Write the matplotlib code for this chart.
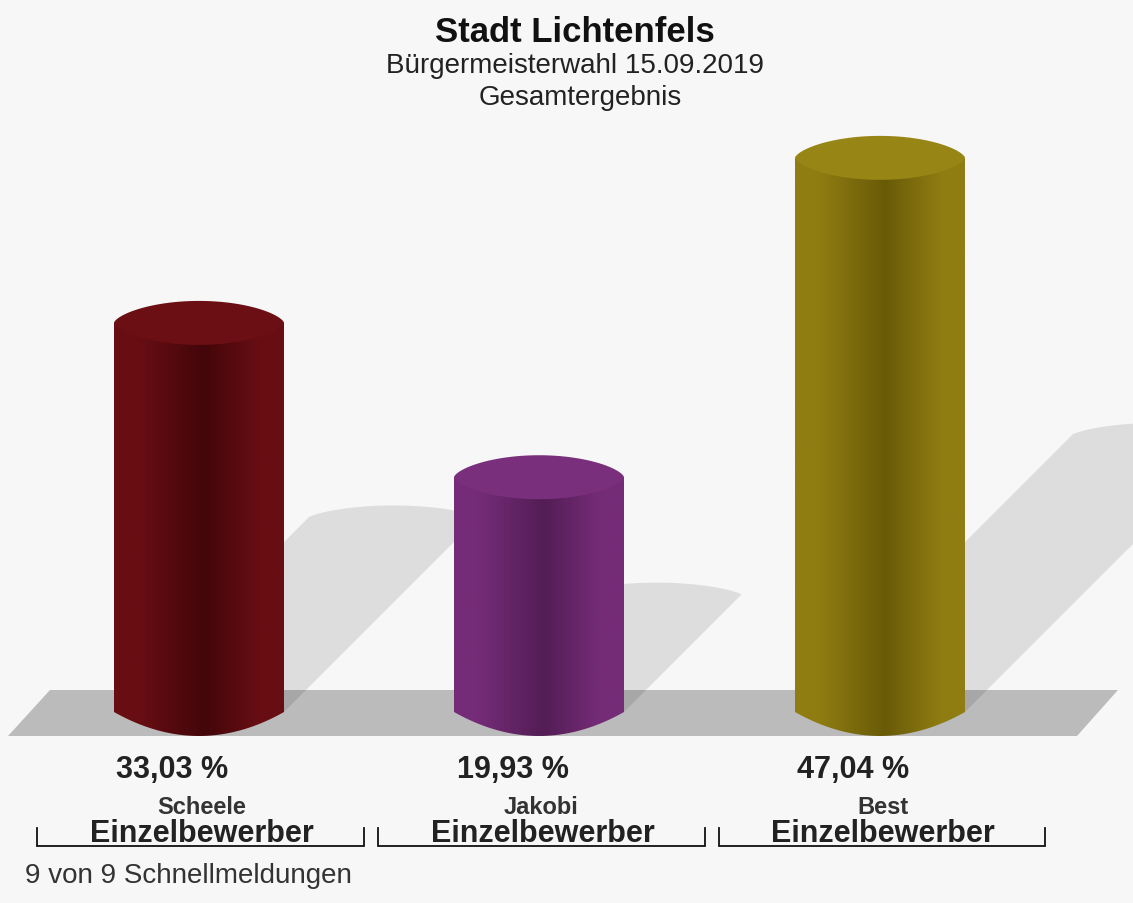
#!/usr/bin/env python3
"""Stadt Lichtenfels - Buergermeisterwahl 2019, cylinder bar chart."""
import numpy as np
import matplotlib
matplotlib.use("Agg")
import matplotlib.pyplot as plt
from matplotlib.colors import LinearSegmentedColormap
from matplotlib.patches import Polygon, PathPatch
from matplotlib.path import Path

plt.rcParams["font.family"] = ["Liberation Sans", "DejaVu Sans"]

# ─── DATA ─────────────────────────────────────────────────────────
candidates = ["Scheele", "Jakobi", "Best"]
parties = ["Einzelbewerber", "Einzelbewerber", "Einzelbewerber"]
values = [33.03, 19.93, 47.04]
value_labels = ["33,03 %", "19,93 %", "47,04 %"]

edge_colors = ["#680e13", "#752c78", "#8f7d12"]
dark_colors = ["#43060a", "#531d55", "#695a08"]
lid_colors = ["#6c0f14", "#7a2f7d", "#978515"]

# ─── LAYOUT (pixels of the 1133x904 picture) ──────────────────────
W, H = 1133, 904
BASE_PX = 713        # y of the value-axis zero
PX_PER_PCT = 11.78
CENTERS = [199, 539, 880]
HALF_W = 85
LID_H = 22
BOTTOM_H = 24
BG = "#f7f7f7"


def py(px):
    """Picture y pixel to value units."""
    return (BASE_PX - px) / PX_PER_PCT


fig = plt.figure(figsize=(W / 100, H / 100), dpi=100, facecolor=BG)
ax = fig.add_axes([0, 0, 1, 1])
ax.axis("off")

# floor
ax.add_patch(Polygon([(8, py(737)), (1077, py(737)), (1118, py(691)), (50, py(691))],
                     closed=True, fc="#bbbbbb", ec="none", zorder=1))

theta = np.linspace(0, np.pi, 60)

for cx, v, edge, dark, lid in zip(CENTERS, values, edge_colors, dark_colors, lid_colors):
    top = v
    lid_h = LID_H / PX_PER_PCT
    bot_h = BOTTOM_H / PX_PER_PCT

    # shadow: bar sheared at 45 degrees to half of its height
    sh_px = v * PX_PER_PCT / 2
    sh_y = sh_px / PX_PER_PCT
    sx = cx + sh_px + HALF_W * np.cos(theta)
    sy = sh_y + 12 / PX_PER_PCT * np.sin(theta) ** 1.5
    pts = [(cx - HALF_W, 0)] + list(zip(sx[::-1], sy[::-1])) + [(cx + HALF_W, 0)]
    ax.add_patch(Polygon(pts, closed=True, fc="black", alpha=0.1, ec="none", zorder=2))

    # body with horizontal gradient, clipped to the cylinder outline
    xs = cx + HALF_W * np.cos(theta)
    outline = ([(x, -bot_h * np.sin(t) ** 2) for x, t in zip(xs[::-1], theta[::-1])]
               + [(cx + HALF_W, top), (cx - HALF_W, top)])
    cmap = LinearSegmentedColormap.from_list("c", [(0, edge), (0.14, edge), (0.53, dark),
                                                   (0.86, edge), (1, edge)])
    im = ax.imshow(np.linspace(0, 1, 256)[None, :], cmap=cmap, aspect="auto",
                   extent=(cx - HALF_W, cx + HALF_W, -bot_h, top + lid_h), zorder=3)
    clip = PathPatch(Path(outline + [outline[0]], closed=True), fc="none", ec="none",
                     transform=ax.transData)
    ax.add_patch(clip)
    im.set_clip_path(clip)

    # lid
    t2 = np.linspace(0, 2 * np.pi, 120)
    ax.fill(cx + HALF_W * np.cos(t2),
            top + lid_h * np.sign(np.sin(t2)) * np.abs(np.sin(t2)) ** 1.3,
            color=lid, lw=0, zorder=4)

ax.set_xlim(0, W)
ax.set_ylim(py(H), py(0))

# titles
ax.text(575, py(32), "Stadt Lichtenfels", ha="center", va="center", fontsize=25,
        fontweight="bold", color="#111111")
ax.text(575, py(66), "Bürgermeisterwahl 15.09.2019", ha="center", va="center",
        fontsize=20, color="#222222")
ax.text(580, py(98), "Gesamtergebnis", ha="center", va="center", fontsize=20, color="#222222")

# labels below the bars
value_x = [172, 513, 853]
name_x = [202, 541, 883]
party_x = [202, 543, 883]
bracket_x = [(37, 364), (378, 705), (719, 1045)]
for i in range(3):
    ax.text(value_x[i], py(770), value_labels[i], ha="center", va="center", fontsize=22,
            fontweight="bold", color="#222222")
    ax.text(name_x[i], py(808), candidates[i], ha="center", va="center", fontsize=17,
            fontweight="bold", color="#333333")
    ax.text(party_x[i], py(834), parties[i], ha="center", va="center", fontsize=22,
            fontweight="bold", color="#222222")
    x0, x1 = bracket_x[i]
    ax.plot([x0, x0, x1, x1], [py(829), py(847), py(847), py(829)], color="#111111",
            lw=1.3, solid_joinstyle="miter", zorder=5)

ax.text(25, py(876), "9 von 9 Schnellmeldungen", ha="left", va="center", fontsize=20,
        color="#333333")

fig.savefig("out.png", dpi=100, facecolor=BG)
